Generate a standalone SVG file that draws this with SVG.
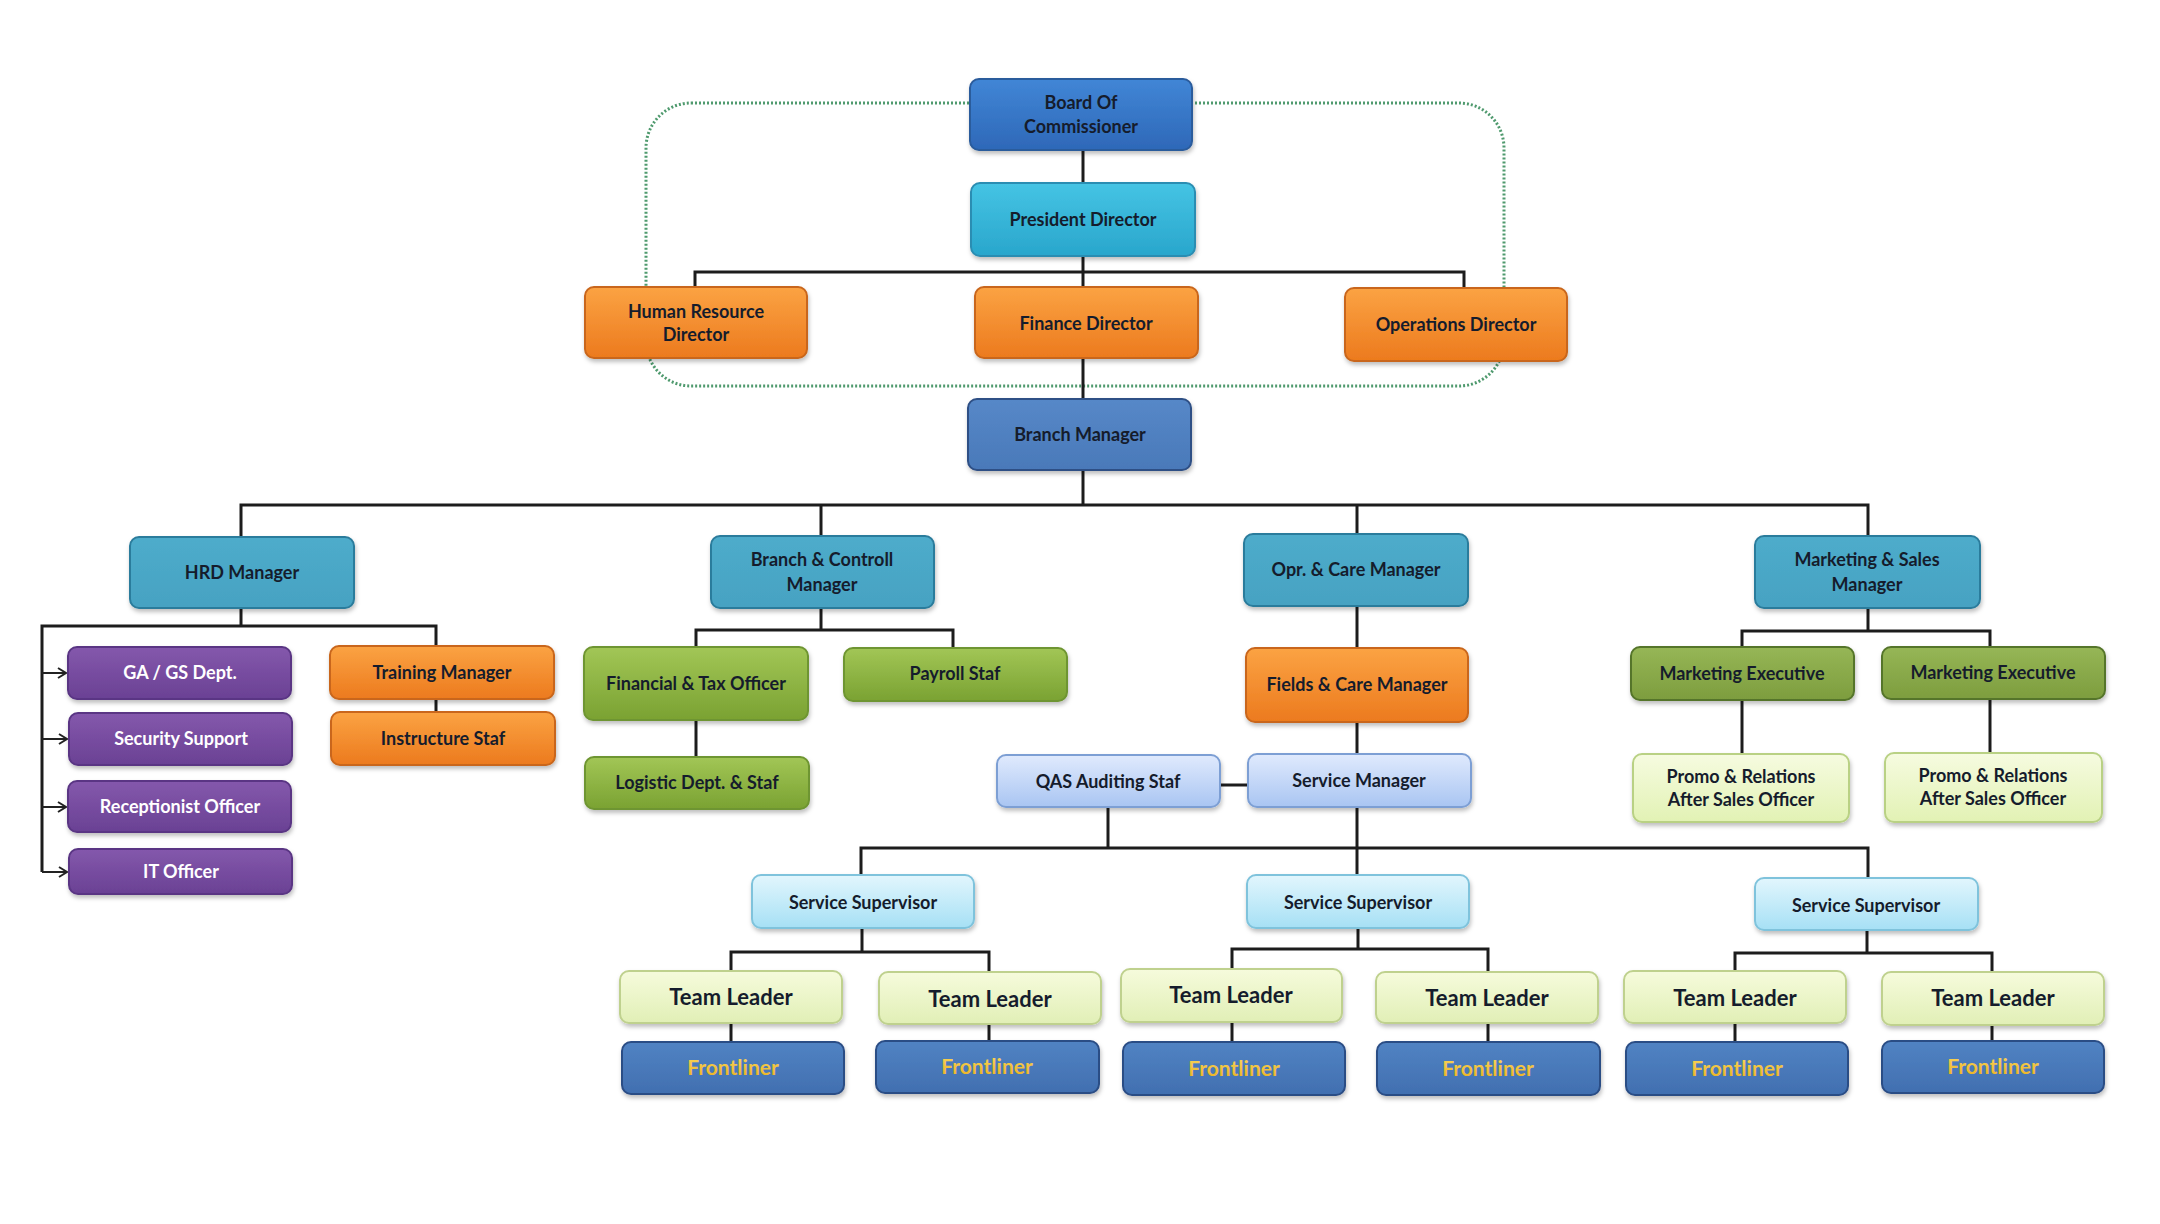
<svg xmlns="http://www.w3.org/2000/svg" width="2160" height="1224" viewBox="0 0 2160 1224">
<defs>
<linearGradient id="gBoard" x1="0" y1="0" x2="0" y2="1"><stop offset="0" stop-color="#4186d6"/><stop offset="1" stop-color="#2e68b8"/></linearGradient>
<linearGradient id="gPres" x1="0" y1="0" x2="0" y2="1"><stop offset="0" stop-color="#45c4e4"/><stop offset="1" stop-color="#29a6cc"/></linearGradient>
<linearGradient id="gOrange" x1="0" y1="0" x2="0" y2="1"><stop offset="0" stop-color="#fba343"/><stop offset="1" stop-color="#ec7a1e"/></linearGradient>
<linearGradient id="gBranch" x1="0" y1="0" x2="0" y2="1"><stop offset="0" stop-color="#5688c8"/><stop offset="1" stop-color="#4a79b9"/></linearGradient>
<linearGradient id="gMgr" x1="0" y1="0" x2="0" y2="1"><stop offset="0" stop-color="#4eaccb"/><stop offset="1" stop-color="#46a2c2"/></linearGradient>
<linearGradient id="gPurple" x1="0" y1="0" x2="0" y2="1"><stop offset="0" stop-color="#8458ac"/><stop offset="1" stop-color="#6a4194"/></linearGradient>
<linearGradient id="gGreen" x1="0" y1="0" x2="0" y2="1"><stop offset="0" stop-color="#a2c656"/><stop offset="1" stop-color="#7aa232"/></linearGradient>
<linearGradient id="gMkt" x1="0" y1="0" x2="0" y2="1"><stop offset="0" stop-color="#96b656"/><stop offset="1" stop-color="#7d9d3e"/></linearGradient>
<linearGradient id="gPromo" x1="0" y1="0" x2="0" y2="1"><stop offset="0" stop-color="#f6fbe0"/><stop offset="1" stop-color="#e2f2b4"/></linearGradient>
<linearGradient id="gLav" x1="0" y1="0" x2="0" y2="1"><stop offset="0" stop-color="#e0eafd"/><stop offset="1" stop-color="#a9c5f2"/></linearGradient>
<linearGradient id="gSky" x1="0" y1="0" x2="0" y2="1"><stop offset="0" stop-color="#e2f6fd"/><stop offset="1" stop-color="#a6e0f5"/></linearGradient>
<linearGradient id="gTL" x1="0" y1="0" x2="0" y2="1"><stop offset="0" stop-color="#f6fbdc"/><stop offset="1" stop-color="#e1efb6"/></linearGradient>
<linearGradient id="gFront" x1="0" y1="0" x2="0" y2="1"><stop offset="0" stop-color="#5183c3"/><stop offset="1" stop-color="#416fb0"/></linearGradient>
<linearGradient id="gGold" x1="0" y1="0" x2="0" y2="1"><stop offset="0" stop-color="#f9d860"/><stop offset="1" stop-color="#eab020"/></linearGradient>
<filter id="sh" x="-10%" y="-10%" width="120%" height="130%"><feDropShadow dx="1" dy="3" stdDeviation="2" flood-color="#000" flood-opacity="0.25"/></filter>
<marker id="arr" markerWidth="12" markerHeight="12" refX="10" refY="6" orient="auto" markerUnits="userSpaceOnUse"><path d="M2,1 L10,6 L2,11" fill="none" stroke="#222" stroke-width="2"/></marker>
<style>
rect.n{rx:9;ry:9;stroke-width:2;filter:url(#sh)}
text{font-family:Lato,"Open Sans","Liberation Sans",sans-serif;font-weight:bold;font-size:18px;text-anchor:middle;fill:#151c2c}
.board{fill:url(#gBoard);stroke:#2b5b9c}
.pres{fill:url(#gPres);stroke:#2a8db2}
.orange{fill:url(#gOrange);stroke:#c9661a}
.branch{fill:url(#gBranch);stroke:#2e4f85}
.mgr{fill:url(#gMgr);stroke:#2c7c9c}
.purple{fill:url(#gPurple);stroke:#5a3684}
.green{fill:url(#gGreen);stroke:#6e9530}
.mkt{fill:url(#gMkt);stroke:#55752a}
.promo{fill:url(#gPromo);stroke:#b9d184}
.lav{fill:url(#gLav);stroke:#7d9fd4}
.sky{fill:url(#gSky);stroke:#7fc3dc}
.tl{fill:url(#gTL);stroke:#bfd18e}
.front{fill:url(#gFront);stroke:#2b4d85}
text.w{fill:#ffffff}
text.tlt{font-size:22px}
text.ft{font-size:21px;fill:url(#gGold)}
.c{fill:none;stroke:#1c1c1c;stroke-width:3}
.ca{fill:none;stroke:#222;stroke-width:2;marker-end:url(#arr)}
</style>
</defs>
<rect width="2160" height="1224" fill="#ffffff"/>
<rect x="646" y="103" width="858" height="283" rx="45" ry="45" fill="none" stroke="#4f9a6e" stroke-width="3" stroke-dasharray="2 2"/>
<g id="connectors">
<path class="c" d="M1083,150 V183"/>
<path class="c" d="M1083,256 V287"/>
<path class="c" d="M695,287 V272 H1464 V288"/>
<path class="c" d="M1083,358 V399"/>
<path class="c" d="M1083,470 V505"/>
<path class="c" d="M241,537 V505 H1868 V536"/>
<path class="c" d="M821,505 V536"/>
<path class="c" d="M1357,505 V534"/>
<path class="c" d="M241,608 V626"/>
<path class="c" d="M42,872 V626 H436 V646"/>
<path class="ca" d="M42,673 H66"/>
<path class="ca" d="M42,739 H67"/>
<path class="ca" d="M42,807 H66"/>
<path class="ca" d="M42,872 H67"/>
<path class="c" d="M436,699 V712"/>
<path class="c" d="M821,608 V630"/>
<path class="c" d="M696,647 V630 H953 V648"/>
<path class="c" d="M696,720 V757"/>
<path class="c" d="M1357,606 V648"/>
<path class="c" d="M1357,722 V754"/>
<path class="c" d="M1220,785 H1248"/>
<path class="c" d="M1108,807 V848"/>
<path class="c" d="M1357,807 V875"/>
<path class="c" d="M861,875 V848 H1868 V878"/>
<path class="c" d="M1868,608 V631"/>
<path class="c" d="M1742,647 V631 H1990 V647"/>
<path class="c" d="M1742,700 V754"/>
<path class="c" d="M1990,699 V753"/>
<path class="c" d="M862,928 V952"/>
<path class="c" d="M731,971 V952 H989 V972"/>
<path class="c" d="M1358,928 V949"/>
<path class="c" d="M1232,969 V949 H1488 V972"/>
<path class="c" d="M1867,930 V953"/>
<path class="c" d="M1735,971 V953 H1992 V972"/>
<path class="c" d="M731,1023 V1042"/>
<path class="c" d="M989,1024 V1041"/>
<path class="c" d="M1232,1022 V1042"/>
<path class="c" d="M1488,1023 V1042"/>
<path class="c" d="M1735,1023 V1042"/>
<path class="c" d="M1992,1025 V1041"/>
</g>
<g id="board"><rect class="n board" x="970" y="79" width="222" height="71"/><text x="1081" y="109">Board Of</text><text x="1081" y="133">Commissioner</text></g>
<g id="president"><rect class="n pres" x="971" y="183" width="224" height="73"/><text x="1083" y="226">President Director</text></g>
<g id="hr-director"><rect class="n orange" x="585" y="287" width="222" height="71"/><text x="696" y="318">Human Resource</text><text x="696" y="341">Director</text></g>
<g id="finance-director"><rect class="n orange" x="975" y="287" width="223" height="71"/><text x="1086" y="330">Finance Director</text></g>
<g id="operations-director"><rect class="n orange" x="1345" y="288" width="222" height="73"/><text x="1456" y="331">Operations Director</text></g>
<g id="branch-manager"><rect class="n branch" x="968" y="399" width="223" height="71"/><text x="1080" y="441">Branch Manager</text></g>
<g id="hrd-manager"><rect class="n mgr" x="130" y="537" width="224" height="71"/><text x="242" y="579">HRD Manager</text></g>
<g id="branch-controll"><rect class="n mgr" x="711" y="536" width="223" height="72"/><text x="822" y="566">Branch &amp; Controll</text><text x="822" y="591">Manager</text></g>
<g id="opr-care"><rect class="n mgr" x="1244" y="534" width="224" height="72"/><text x="1356" y="576">Opr. &amp; Care Manager</text></g>
<g id="marketing-sales"><rect class="n mgr" x="1755" y="536" width="225" height="72"/><text x="1867" y="566">Marketing &amp; Sales</text><text x="1867" y="591">Manager</text></g>
<g id="ga-gs"><rect class="n purple" x="68" y="647" width="223" height="52"/><text class="w" x="180" y="679">GA / GS Dept.</text></g>
<g id="security"><rect class="n purple" x="69" y="713" width="223" height="52"/><text class="w" x="181" y="745">Security Support</text></g>
<g id="receptionist"><rect class="n purple" x="68" y="781" width="223" height="51"/><text class="w" x="180" y="813">Receptionist Officer</text></g>
<g id="it-officer"><rect class="n purple" x="69" y="849" width="223" height="45"/><text class="w" x="181" y="878">IT Officer</text></g>
<g id="training-manager"><rect class="n orange" x="330" y="646" width="224" height="53"/><text x="442" y="679">Training Manager</text></g>
<g id="instructure"><rect class="n orange" x="331" y="712" width="224" height="53"/><text x="443" y="745">Instructure Staf</text></g>
<g id="financial-tax"><rect class="n green" x="584" y="647" width="224" height="73"/><text x="696" y="690">Financial &amp; Tax Officer</text></g>
<g id="payroll"><rect class="n green" x="844" y="648" width="223" height="53"/><text x="955" y="680">Payroll Staf</text></g>
<g id="logistic"><rect class="n green" x="585" y="757" width="224" height="52"/><text x="697" y="789">Logistic Dept. &amp; Staf</text></g>
<g id="fields-care"><rect class="n orange" x="1246" y="648" width="222" height="74"/><text x="1357" y="691">Fields &amp; Care Manager</text></g>
<g id="qas"><rect class="n lav" x="997" y="755" width="223" height="52"/><text x="1108" y="788">QAS Auditing Staf</text></g>
<g id="service-manager"><rect class="n lav" x="1248" y="754" width="223" height="53"/><text x="1359" y="787">Service Manager</text></g>
<g id="mkt-exec-1"><rect class="n mkt" x="1631" y="647" width="223" height="53"/><text x="1742" y="680">Marketing Executive</text></g>
<g id="mkt-exec-2"><rect class="n mkt" x="1882" y="647" width="223" height="52"/><text x="1993" y="679">Marketing Executive</text></g>
<g id="promo-1"><rect class="n promo" x="1633" y="754" width="216" height="68"/><text x="1741" y="783">Promo &amp; Relations</text><text x="1741" y="806">After Sales Officer</text></g>
<g id="promo-2"><rect class="n promo" x="1885" y="753" width="217" height="69"/><text x="1993" y="782">Promo &amp; Relations</text><text x="1993" y="805">After Sales Officer</text></g>
<g id="supervisor-1"><rect class="n sky" x="752" y="875" width="222" height="53"/><text x="863" y="909">Service Supervisor</text></g>
<g id="supervisor-2"><rect class="n sky" x="1247" y="875" width="222" height="53"/><text x="1358" y="909">Service Supervisor</text></g>
<g id="supervisor-3"><rect class="n sky" x="1755" y="878" width="223" height="52"/><text x="1866" y="912">Service Supervisor</text></g>
<g id="team-leader-1"><rect class="n tl" x="620" y="971" width="222" height="52"/><text class="tlt" x="731" y="1005">Team Leader</text></g>
<g id="team-leader-2"><rect class="n tl" x="879" y="972" width="222" height="52"/><text class="tlt" x="990" y="1007">Team Leader</text></g>
<g id="team-leader-3"><rect class="n tl" x="1121" y="969" width="221" height="53"/><text class="tlt" x="1231" y="1003">Team Leader</text></g>
<g id="team-leader-4"><rect class="n tl" x="1376" y="972" width="222" height="51"/><text class="tlt" x="1487" y="1006">Team Leader</text></g>
<g id="team-leader-5"><rect class="n tl" x="1624" y="971" width="222" height="52"/><text class="tlt" x="1735" y="1006">Team Leader</text></g>
<g id="team-leader-6"><rect class="n tl" x="1882" y="972" width="222" height="53"/><text class="tlt" x="1993" y="1006">Team Leader</text></g>
<g id="frontliner-1"><rect class="n front" x="622" y="1042" width="222" height="52"/><text class="ft" x="733" y="1075">Frontliner</text></g>
<g id="frontliner-2"><rect class="n front" x="876" y="1041" width="223" height="52"/><text class="ft" x="987" y="1074">Frontliner</text></g>
<g id="frontliner-3"><rect class="n front" x="1123" y="1042" width="222" height="53"/><text class="ft" x="1234" y="1076">Frontliner</text></g>
<g id="frontliner-4"><rect class="n front" x="1377" y="1042" width="223" height="53"/><text class="ft" x="1488" y="1076">Frontliner</text></g>
<g id="frontliner-5"><rect class="n front" x="1626" y="1042" width="222" height="53"/><text class="ft" x="1737" y="1076">Frontliner</text></g>
<g id="frontliner-6"><rect class="n front" x="1882" y="1041" width="222" height="52"/><text class="ft" x="1993" y="1074">Frontliner</text></g>
</svg>
